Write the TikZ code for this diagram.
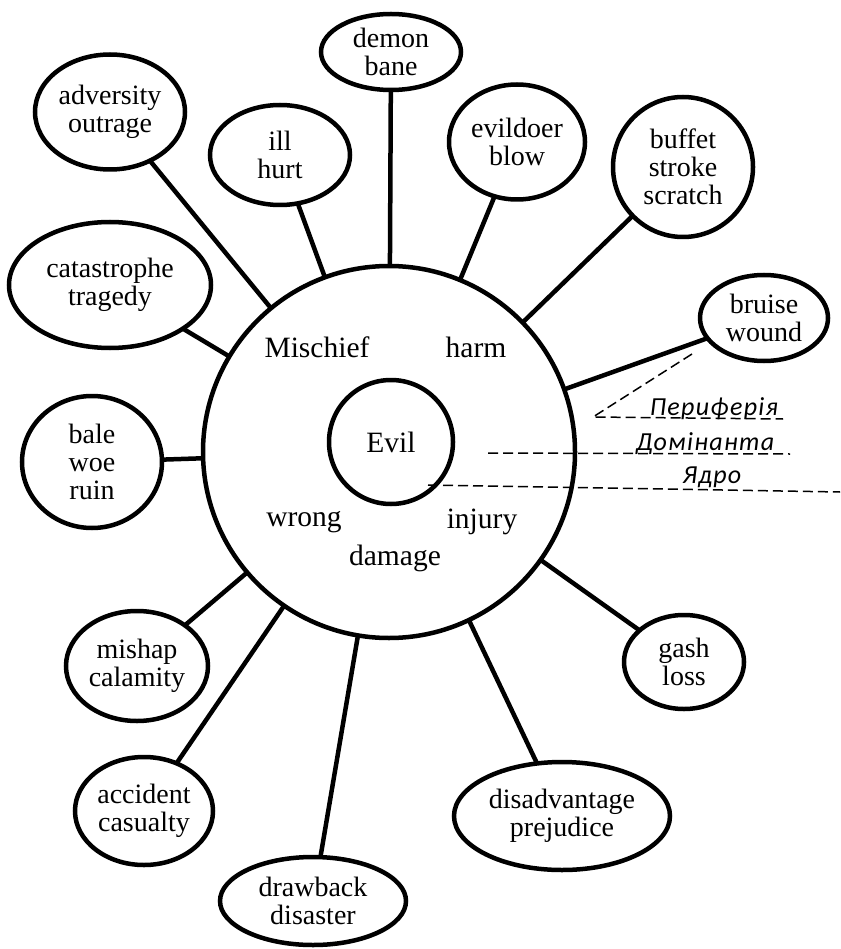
\documentclass[tikz,border=0pt]{standalone}
\usepackage{fontspec}
\setmainfont{Liberation Serif}
\newfontfamily\tierfont[LetterSpace=5]{Carlito}
\usetikzlibrary{shapes.geometric}

\begin{document}
\begin{tikzpicture}[x=1pt,y=-1pt,
  every node/.style={font=\fontsize{28}{28}\selectfont},
  ell/.style={draw, ellipse, line width=4.5pt, inner sep=0pt, outer sep=0pt, align=center},
  ring/.style={draw, circle, line width=4.5pt, inner sep=0pt, outer sep=0pt},
  word/.style={font=\fontsize{29.5}{30}\selectfont},
  link/.style={line width=4.5pt},
  guide/.style={line width=1.5pt, dash pattern=on 10pt off 5pt},
  tier/.style={font=\tierfont\itshape\fontsize{26}{26}\selectfont, inner sep=0pt, anchor=base}
]
\useasboundingbox (0,0) rectangle (840,949);

% core circles
\node[ring, minimum size=372pt] (field) at (389,452) {};
\node[ring, word, minimum size=124pt] (evil) at (391,442) {Evil};

% words of the dominant zone
\node[word] (mischief) at (317,347) {Mischief};
\node[word] (harm) at (476,347) {harm};
\node[word] (wrong) at (304,522) {wrong};
\node[word] (injury) at (482,522) {injury};
\node[word] (damage) at (395,558) {damage};

% periphery
\node[ell, minimum width=140pt, minimum height=76pt] (demon) at (391,52) {demon\\bane};
\node[ell, minimum width=150pt, minimum height=115pt] (adversity) at (110,112) {adversity\\outrage};
\node[ell, minimum width=140pt, minimum height=100pt] (ill) at (280,155) {ill\\hurt};
\node[ell, minimum width=202pt, minimum height=126pt] (catastrophe) at (110,285) {catastrophe\\tragedy};
\node[ell, minimum width=140pt, minimum height=132pt] (bale) at (92,462) {bale\\woe\\ruin};
\node[ell, minimum width=136pt, minimum height=115pt] (evildoer) at (517,142) {evildoer\\blow};
\node[ell, minimum width=140pt, minimum height=140pt] (buffet) at (683,167) {buffet\\stroke\\scratch};
\node[ell, minimum width=128pt, minimum height=86pt] (bruise) at (764,318) {bruise\\wound};
\node[ell, minimum width=142pt, minimum height=110pt] (mishap) at (137,666) {mishap\\calamity};
\node[ell, minimum width=138pt, minimum height=108pt] (accident) at (144,811) {accident\\casualty};
\node[ell, minimum width=186pt, minimum height=88pt] (drawback) at (313,901) {drawback\\disaster};
\node[ell, minimum width=120pt, minimum height=94pt] (gash) at (684,662) {gash\\loss};
\node[ell, minimum width=216pt, minimum height=108pt] (disadvantage) at (562,816) {disadvantage\\prejudice};

% spokes
\foreach \n in {demon,adversity,ill,catastrophe,bale,evildoer,buffet,bruise,mishap,accident,drawback,gash,disadvantage}
  \draw[link] (\n) -- (field);

% zone guides
\coordinate (pa) at (692,354);
\coordinate (pb) at (593,417);
\coordinate (pc) at (783,419);
\coordinate (da) at (488,453);
\coordinate (db) at (790,454);
\coordinate (ya) at (428,485);
\coordinate (yb) at (840,492);
\draw[guide] (pa) -- (pb) -- (pc);
\draw[guide] (da) -- (db);
\draw[guide] (ya) -- (yb);

\node[tier] (periphery) at (714,415) {Периферія};
\node[tier] (dominant) at (705,450) {Домінанта};
\node[tier] (nucleus) at (712,483) {Ядро};
\end{tikzpicture}
\end{document}
